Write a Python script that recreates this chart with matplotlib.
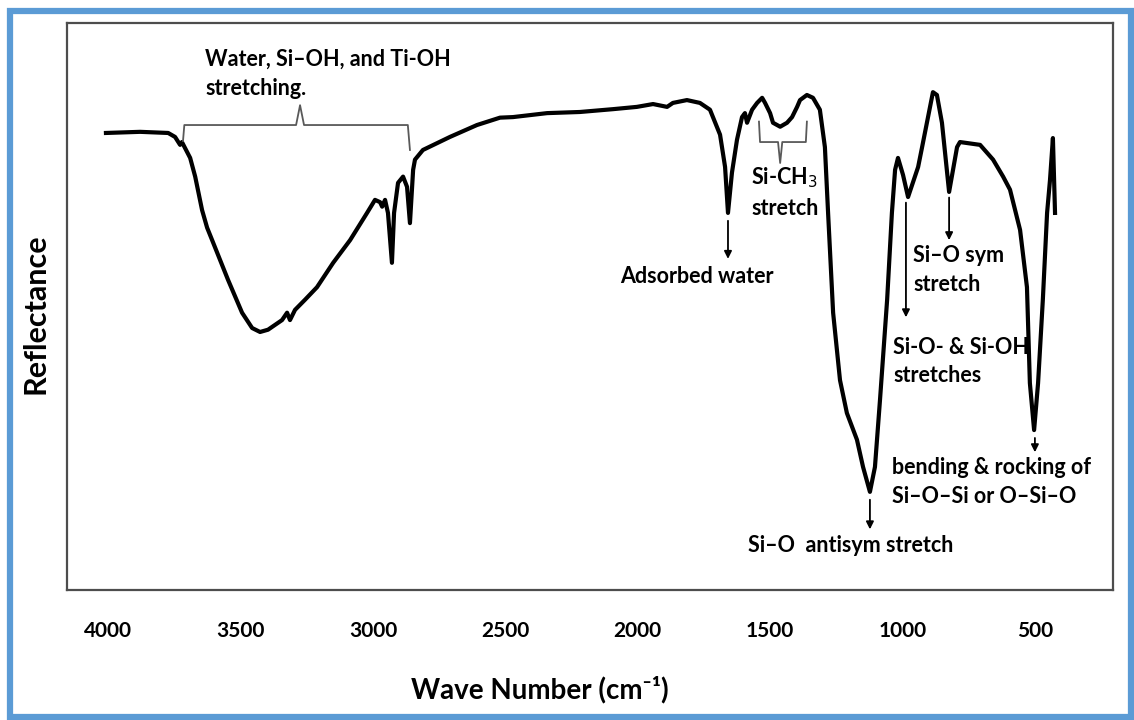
import matplotlib
matplotlib.use("Agg")
from matplotlib import pyplot as plt
from matplotlib.patches import Rectangle

# spectrum (wavenumber in cm-1, reflectance in arbitrary units)
wavenumber = [4008, 3879, 3773, 3747, 3728, 3721, 3690, 3671, 3645, 3626,
              3607, 3547, 3494, 3456, 3426, 3396, 3343, 3324, 3313, 3294,
              3256, 3211, 3150, 3086, 3022, 2992, 2973, 2965, 2954, 2943,
              2928, 2920, 2905, 2886, 2871, 2860, 2848, 2841, 2811, 2709,
              2607, 2520, 2471, 2342, 2218, 2093, 2003, 1942, 1889, 1867,
              1814, 1765, 1727, 1689, 1670, 1659, 1644, 1625, 1606, 1595,
              1587, 1568, 1549, 1530, 1519, 1500, 1489, 1462, 1436, 1417,
              1398, 1387, 1361, 1338, 1312, 1293, 1281, 1262, 1236, 1210,
              1172, 1149, 1123, 1104, 1085, 1058, 1040, 1028, 1017, 998,
              979, 941, 926, 885, 870, 851, 824, 794, 783, 707,
              658, 620, 594, 556, 530, 519, 503, 488, 470, 454,
              443, 432, 424]
reflectance = [80.6, 80.8, 80.6, 79.9, 78.5, 79.0, 76.2, 72.9, 67.0, 63.9,
               61.7, 54.7, 48.9, 46.2, 45.5, 45.9, 47.6, 48.9, 47.6, 49.4,
               51.2, 53.4, 57.7, 61.7, 66.5, 68.8, 68.4, 67.6, 68.8, 66.5,
               57.7, 66.5, 71.8, 72.9, 71.1, 64.7, 74.1, 75.9, 77.6, 79.9,
               82.0, 83.3, 83.4, 84.1, 84.3, 84.8, 85.2, 85.7, 85.2, 85.9,
               86.4, 85.9, 84.7, 80.3, 74.6, 66.5, 73.6, 79.4, 83.4, 84.1,
               82.4, 84.7, 85.9, 86.8, 85.9, 84.1, 82.4, 81.7, 82.4, 83.4,
               85.2, 86.4, 87.3, 86.8, 84.7, 78.1, 66.5, 48.9, 37.0, 31.2,
               26.5, 21.7, 17.3, 21.7, 33.5, 51.2, 66.5, 74.1, 76.2, 73.2,
               69.3, 74.6, 78.1, 87.8, 87.3, 82.4, 70.2, 78.1, 79.0, 78.5,
               75.9, 72.9, 70.6, 63.5, 53.4, 36.5, 28.2, 36.5, 51.2, 66.5,
               72.3, 79.7, 66.5]

xticks = [4000, 3500, 3000, 2500, 2000, 1500, 1000, 500]

# brackets over band regions
water_brace_x = [3717, 3712, 3290, 3275, 3260, 2868, 2860]
water_brace_y = [79.2, 82.0, 82.0, 85.5, 82.0, 82.0, 77.6]
ch3_brace_x = [1542, 1538, 1470, 1462, 1454, 1365, 1361]
ch3_brace_y = [82.6, 79.0, 79.0, 75.3, 79.0, 79.0, 82.6]

# arrow start / end for peak labels
arrows = [((1659, 65.6), (1659, 57.9)),
          ((1123, 16.4), (1123, 10.2)),
          ((824, 69.7), (824, 61.2)),
          ((987, 68.8), (987, 47.6)),
          ((500, 27.3), (500, 23.8))]

plt.rcParams['font.family'] = ['Lato', 'DejaVu Sans']

fig = plt.figure(figsize=(11.34, 7.2), dpi=100)
ax = fig.add_axes([0.0591, 0.1806, 0.9224, 0.7875])

ax.plot(wavenumber, reflectance, color="black", lw=3.0, solid_joinstyle="round")
ax.plot(water_brace_x, water_brace_y, color="#595959", lw=1.3)
ax.plot(ch3_brace_x, ch3_brace_y, color="#595959", lw=1.3)

for start, end in arrows:
    ax.annotate("", xy=end, xytext=start,
                arrowprops=dict(arrowstyle="-|>", color="black", lw=1.3, mutation_scale=11))

fs = 15.5
ls = 1.45
ax.text(3634, 91.0, "Water, Si–OH, and Ti-OH\nstretching.", fontsize=fs, weight="bold",
        va="center", ha="left", linespacing=ls)
ax.text(1572, 70.2, "Si-CH$_3$\nstretch", fontsize=fs, weight="bold",
        va="center", ha="left", linespacing=ls)
ax.text(1776, 55.2, "Adsorbed water", fontsize=fs, weight="bold", va="center", ha="center")
ax.text(1583, 7.8, "Si–O  antisym stretch", fontsize=fs, weight="bold", va="center", ha="left")
ax.text(960, 56.4, "Si–O sym\nstretch", fontsize=fs, weight="bold",
        va="center", ha="left", linespacing=ls)
ax.text(1036, 40.3, "Si-O- & Si-OH\nstretches", fontsize=fs, weight="bold",
        va="center", ha="left", linespacing=ls)
ax.text(1040, 19.0, "bending & rocking of\nSi–O–Si or O–Si–O", fontsize=fs, weight="bold",
        va="center", ha="left", linespacing=ls)

ax.set_xlim(4155, 205)
ax.set_ylim(0, 100)
ax.set_xticks(xticks)
ax.set_xticklabels([str(t) for t in xticks], fontsize=15, weight="bold")
ax.set_yticks([])
ax.tick_params(axis="x", length=0, pad=22)
for s in ax.spines.values():
    s.set_color("#4d4d4d")
    s.set_linewidth(1.6)

fig.text(0.476, 0.042, "Wave Number (cm⁻¹)", fontsize=20, weight="bold", ha="center", va="center")
fig.text(0.031, 0.565, "Reflectance", fontsize=22, weight="bold", ha="center", va="center",
         rotation=90)

fig.patches.append(Rectangle((0.0084, 0.0042), 0.989, 0.981, transform=fig.transFigure,
                             fill=False, edgecolor="#5B9BD5", lw=4.5))

fig.savefig("out.png", dpi=100)
plt.close()
